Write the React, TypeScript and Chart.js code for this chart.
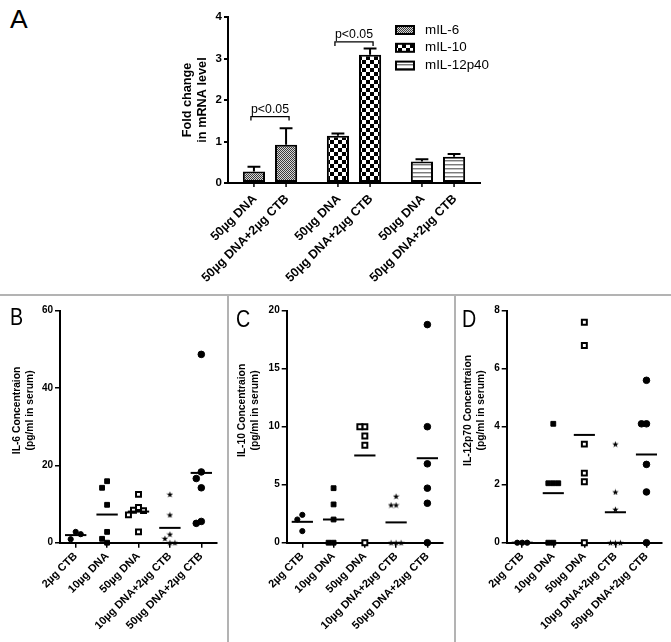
import React, { useEffect, useRef } from 'react';
import { Chart, registerables } from 'chart.js';

Chart.register(...registerables);

const FONT = '"Liberation Sans", Arial, Helvetica, sans-serif';
Chart.defaults.font.family = FONT;
Chart.defaults.color = '#000';

// ---------------- Panel A data ----------------
const geneLabels = ['mIL-6', 'mIL-10', 'mIL-12p40'];
const treatmentLabels = ['50µg DNA', '50µg DNA+2µg CTB'];
const foldDna = [0.28, 1.14, 0.52];
const foldDnaCtb = [0.92, 3.09, 0.63];
const semDna = [0.11, 0.05, 0.05];
const semDnaCtb = [0.4, 0.15, 0.07];
const sigLabels = ['p<0.05', 'p<0.05', ''];
const sigLevels = [1.6, 3.4, 0];
const foldTicks = [0, 1, 2, 3, 4];

// ---------------- Panels B-D data ----------------
const serumGroups = ['2µg CTB', '10µg DNA', '50µg DNA', '10µg DNA+2µg CTB', '50µg DNA+2µg CTB'];
const il6Values = [
  [2.8, 0.9, 2.2],
  [15.9, 14.2, 9.8, 2.8, 1.0, 0],
  [12.5, 9.1, 8.4, 8.3, 7.2, 2.8],
  [12.5, 7.2, 2.2, 1.1, 0, 0],
  [48.7, 18.3, 16.6, 14.2, 5.5, 5.0],
];
const il10Values = [
  [2.4, 2.0, 1.0],
  [4.7, 3.3, 2.0, 0, 0],
  [10, 10, 9.2, 8.4, 0],
  [4.0, 3.25, 3.25, 0, 0, 0],
  [18.8, 10, 6.8, 4.7, 3.4, 0],
];
const il12Values = [
  [0, 0, 0],
  [4.1, 2.05, 2.05, 2.05, 0, 0],
  [7.6, 6.8, 3.4, 2.4, 2.1, 0],
  [3.4, 1.75, 1.15, 0, 0, 0],
  [5.6, 4.1, 4.1, 2.7, 1.75, 0],
];
const il6Ticks = [0, 20, 40, 60];
const il10Ticks = [0, 5, 10, 15, 20];
const il12Ticks = [0, 2, 4, 6, 8];

// ---------------- helpers ----------------
function makePattern(kind: string): CanvasPattern | string {
  const c = document.createElement('canvas');
  const ctx = c.getContext('2d');
  if (!ctx) return '#999';
  if (kind === 'fine') {
    c.width = 2; c.height = 2;
    ctx.fillStyle = '#d6d6d6'; ctx.fillRect(0, 0, 2, 2);
    ctx.fillStyle = '#3a3a3a'; ctx.fillRect(0, 0, 1, 1); ctx.fillRect(1, 1, 1, 1);
  } else if (kind === 'checker') {
    c.width = 8; c.height = 8;
    ctx.fillStyle = '#fff'; ctx.fillRect(0, 0, 8, 8);
    ctx.fillStyle = '#000'; ctx.fillRect(0, 0, 4, 4); ctx.fillRect(4, 4, 4, 4);
  } else {
    c.width = 4; c.height = 4;
    ctx.fillStyle = '#fff'; ctx.fillRect(0, 0, 4, 4);
    ctx.fillStyle = '#7a7a7a'; ctx.fillRect(0, 0, 4, 1);
    ctx.fillStyle = '#c4c4c4'; ctx.fillRect(0, 1, 4, 1);
  }
  return ctx.createPattern(c, 'repeat') || '#999';
}

let starCache: HTMLCanvasElement | null = null;
function starImage(): HTMLCanvasElement {
  if (starCache) return starCache;
  const c = document.createElement('canvas');
  c.width = 7; c.height = 7;
  const ctx = c.getContext('2d')!;
  ctx.fillStyle = '#000';
  ctx.beginPath();
  for (let k = 0; k < 10; k++) {
    const r = k % 2 === 0 ? 3.4 : 1.4;
    const a = -Math.PI / 2 + (k * Math.PI) / 5;
    const px = 3.5 + r * Math.cos(a);
    const py = 3.8 + r * Math.sin(a);
    if (k === 0) ctx.moveTo(px, py); else ctx.lineTo(px, py);
  }
  ctx.closePath();
  ctx.fill();
  starCache = c;
  return c;
}

// spread overlapping points sideways (like a column scatter plot)
function spread(values: number[], thr: number, step: number): number[] {
  const placed: { v: number; o: number }[] = [];
  const cands = [0, -1, 1, -2, 2, -3, 3];
  return values.map((v) => {
    for (const c of cands) {
      if (!placed.some((p) => Math.abs(p.v - v) < thr && Math.abs(p.o - c) < 1)) {
        placed.push({ v, o: c });
        return c * step;
      }
    }
    return 0;
  });
}

const markers = [
  { style: 'circle', r: 2.6, fill: '#000', bw: 1 },
  { style: 'rect', r: 3.4, fill: '#000', bw: 1 },
  { style: 'rect', r: 3.5, fill: '#fff', bw: 2 },
  { style: 'star', r: 3, fill: '#000', bw: 0 },
  { style: 'circle', r: 3.3, fill: '#000', bw: 1 },
];

// ---------------- Panel A ----------------
function buildA(canvas: HTMLCanvasElement) {
  const patterns = [makePattern('fine'), makePattern('checker'), makePattern('stripes')];
  const errs = [semDna, semDnaCtb];

  const decorations = {
    id: 'decorA',
    afterDatasetsDraw(chart: any) {
      const ctx = chart.ctx;
      const y = chart.scales.y;
      const area = chart.chartArea;
      ctx.save();
      ctx.strokeStyle = '#000';
      ctx.lineWidth = 2;
      // error bars
      chart.data.datasets.forEach((ds: any, d: number) => {
        const meta = chart.getDatasetMeta(d);
        meta.data.forEach((el: any, j: number) => {
          const top = y.getPixelForValue(ds.data[j] + errs[d][j]);
          const half = el.width * 0.29;
          ctx.beginPath();
          ctx.moveTo(el.x, el.y);
          ctx.lineTo(el.x, top);
          ctx.moveTo(el.x - half, top);
          ctx.lineTo(el.x + half, top);
          ctx.stroke();
        });
      });
      // significance brackets
      const m0 = chart.getDatasetMeta(0);
      const m1 = chart.getDatasetMeta(1);
      ctx.lineWidth = 1.3;
      ctx.font = `12.3px ${FONT}`;
      ctx.fillStyle = '#000';
      ctx.textAlign = 'center';
      ctx.textBaseline = 'alphabetic';
      sigLabels.forEach((lab, j) => {
        if (!lab) return;
        const x1 = m0.data[j].x - 3;
        const x2 = m1.data[j].x + 3;
        const yb = y.getPixelForValue(sigLevels[j]);
        ctx.beginPath();
        ctx.moveTo(x1, yb + 4);
        ctx.lineTo(x1, yb);
        ctx.lineTo(x2, yb);
        ctx.lineTo(x2, yb + 4);
        ctx.stroke();
        ctx.fillText(lab, (x1 + x2) / 2, yb - 4);
      });
      // x tick marks + rotated labels
      ctx.lineWidth = 1.5;
      ctx.font = `bold 12.5px ${FONT}`;
      ctx.textAlign = 'right';
      ctx.textBaseline = 'middle';
      [m0, m1].forEach((meta: any, d: number) => {
        meta.data.forEach((el: any) => {
          ctx.beginPath();
          ctx.moveTo(el.x, area.bottom);
          ctx.lineTo(el.x, area.bottom + 4);
          ctx.stroke();
          ctx.save();
          ctx.translate(el.x + 1, area.bottom + 14);
          ctx.rotate(-Math.PI / 4);
          ctx.fillText(treatmentLabels[d], 0, 0);
          ctx.restore();
        });
      });
      // legend
      ctx.font = `13.4px ${FONT}`;
      ctx.textAlign = 'left';
      ctx.textBaseline = 'middle';
      ctx.lineWidth = 2;
      geneLabels.forEach((g, k) => {
        const cy = area.top + 13 + k * 17.8;
        const bx = area.right - 84;
        ctx.fillStyle = patterns[k] as any;
        ctx.fillRect(bx, cy - 4, 18, 8);
        ctx.strokeRect(bx, cy - 4, 18, 8);
        ctx.fillStyle = '#000';
        ctx.fillText(g, area.right - 55, cy);
      });
      ctx.restore();
    },
  };

  return new Chart(canvas, {
    type: 'bar',
    data: {
      labels: geneLabels,
      datasets: [
        { label: treatmentLabels[0], data: foldDna },
        { label: treatmentLabels[1], data: foldDnaCtb },
      ].map((ds) => ({
        ...ds,
        backgroundColor: patterns as any,
        borderColor: '#000',
        borderWidth: 2,
        borderSkipped: false,
        categoryPercentage: 0.765,
        barPercentage: 0.69,
      })),
    },
    options: {
      responsive: false,
      animation: false,
      devicePixelRatio: 1,
      layout: { padding: { top: 17, right: 20, left: 0, bottom: 0 } },
      plugins: { legend: { display: false }, tooltip: { enabled: false } },
      scales: {
        x: {
          grid: { display: false },
          ticks: { display: false },
          border: { color: '#000', width: 2 },
          afterFit: (s: any) => { s.height = 109; },
        },
        y: {
          min: 0,
          max: 4,
          afterBuildTicks: (s: any) => { s.ticks = foldTicks.map((v) => ({ value: v })); },
          ticks: { font: { size: 11.5, weight: 'bold' }, color: '#000', padding: 2 },
          grid: { drawOnChartArea: false, color: '#000', lineWidth: 2, tickLength: 4 },
          border: { color: '#000', width: 2 },
          title: {
            display: true,
            text: ['Fold change', 'in mRNA level'],
            font: { size: 12.7, weight: 'bold' },
            color: '#000',
            padding: { top: 30, bottom: 0 },
          },
          afterFit: (s: any) => { s.width = 78; },
        },
      },
    },
    plugins: [decorations],
  } as any);
}

// ---------------- Panels B-D ----------------
interface SerumCfg {
  values: number[][];
  ticks: number[];
  title: string[];
  yWidth: number;
  padRight: number;
  padTop: number;
  xHeight: number;
  titleX: number;
}

function buildSerum(canvas: HTMLCanvasElement, cfg: SerumCfg) {
  const { values, ticks, title, yWidth, padRight, padTop, xHeight, titleX } = cfg;
  const yMax = ticks[ticks.length - 1];
  const thr = yMax * 0.035;
  const datasets = serumGroups.map((g, i) => {
    const offs = spread(values[i], thr, 0.16);
    const m = markers[i];
    return {
      label: g,
      data: values[i].map((v, k) => ({ x: i + offs[k], y: v })),
      pointStyle: m.style === 'star' ? starImage() : m.style,
      pointRadius: m.r,
      pointBackgroundColor: m.fill,
      pointBorderColor: '#000',
      pointBorderWidth: m.bw,
      showLine: false,
      clip: false,
    };
  });

  const meanPlugin = {
    id: 'means',
    afterDatasetsDraw(chart: any) {
      const ctx = chart.ctx;
      const xs = chart.scales.x;
      const ys = chart.scales.y;
      const area = chart.chartArea;
      const half = (xs.getPixelForValue(1) - xs.getPixelForValue(0)) * 0.34;
      ctx.save();
      ctx.strokeStyle = '#000';
      ctx.lineWidth = 2;
      values.forEach((arr, i) => {
        const mean = arr.reduce((a, b) => a + b, 0) / arr.length;
        const yy = ys.getPixelForValue(mean);
        const xc = xs.getPixelForValue(i);
        ctx.beginPath();
        ctx.moveTo(xc - half, yy);
        ctx.lineTo(xc + half, yy);
        ctx.stroke();
      });
      // y-axis title (two rotated lines)
      ctx.fillStyle = '#000';
      ctx.font = `bold 10.3px ${FONT}`;
      ctx.textAlign = 'center';
      ctx.textBaseline = 'middle';
      const cy = area.top + (area.bottom - area.top) * 0.43;
      title.forEach((line, k) => {
        ctx.save();
        ctx.translate(titleX + k * 13, cy);
        ctx.rotate(-Math.PI / 2);
        ctx.fillText(line, 0, 0);
        ctx.restore();
      });
      ctx.restore();
    },
  };

  return new Chart(canvas, {
    type: 'scatter',
    data: { datasets },
    options: {
      responsive: false,
      animation: false,
      devicePixelRatio: 1,
      layout: { padding: { top: padTop, right: padRight, left: 0, bottom: 0 } },
      plugins: { legend: { display: false }, tooltip: { enabled: false } },
      scales: {
        x: {
          type: 'linear',
          min: -0.5,
          max: 4.5,
          afterBuildTicks: (s: any) => { s.ticks = serumGroups.map((_, i) => ({ value: i })); },
          ticks: {
            callback: (v: any) => serumGroups[Math.round(v)] ?? '',
            minRotation: 45,
            maxRotation: 45,
            autoSkip: false,
            font: { size: 11, weight: 'bold' },
            color: '#000',
            padding: 2,
          },
          grid: { drawOnChartArea: false, color: '#000', lineWidth: 1.5, tickLength: 5 },
          border: { color: '#000', width: 2 },
          afterFit: (s: any) => { s.height = xHeight; },
        },
        y: {
          min: 0,
          max: yMax,
          afterBuildTicks: (s: any) => { s.ticks = ticks.map((v) => ({ value: v })); },
          ticks: { font: { size: 10, weight: 'bold' }, color: '#000', padding: 2 },
          grid: { drawOnChartArea: false, color: '#000', lineWidth: 1.5, tickLength: 5 },
          border: { color: '#000', width: 2 },
          afterFit: (s: any) => { s.width = yWidth; },
        },
      },
    },
    plugins: [meanPlugin],
  } as any);
}

// ---------------- React ----------------
function ChartCanvas(props: { left: number; top: number; width: number; height: number; build: (c: HTMLCanvasElement) => Chart }) {
  const ref = useRef<HTMLCanvasElement>(null);
  const { left, top, width, height, build } = props;
  useEffect(() => {
    if (!ref.current) return;
    const chart = build(ref.current);
    return () => chart.destroy();
  }, []);
  return (
    <canvas
      ref={ref}
      width={width}
      height={height}
      style={{ position: 'absolute', left, top, width, height }}
    />
  );
}

const letterStyle = (left: number, top: number, size: number, sx: number): React.CSSProperties => ({
  position: 'absolute',
  left,
  top,
  fontFamily: FONT,
  fontSize: size,
  lineHeight: 1,
  color: '#000',
  transform: `scaleX(${sx})`,
  transformOrigin: 'left top',
});

const sepColor = '#b3b3b3';

export default function App() {
  return (
    <div style={{ position: 'absolute', left: 0, top: 0, width: 671, height: 642, background: '#fff', overflow: 'hidden' }}>
      <ChartCanvas left={150} top={0} width={350} height={292} build={buildA} />
      <ChartCanvas
        left={0}
        top={296}
        width={226}
        height={346}
        build={(c) =>
          buildSerum(c, {
            values: il6Values,
            ticks: il6Ticks,
            title: ['IL-6 Concentraion', '(pg/ml in serum)'],
            yWidth: 60,
            padRight: 9,
            padTop: 14.7,
            xHeight: 99.3,
            titleX: 17,
          })
        }
      />
      <ChartCanvas
        left={228}
        top={296}
        width={226}
        height={346}
        build={(c) =>
          buildSerum(c, {
            values: il10Values,
            ticks: il10Ticks,
            title: ['IL-10 Concentraion', '(pg/ml in serum)'],
            yWidth: 58.7,
            padRight: 11,
            padTop: 14.7,
            xHeight: 99.3,
            titleX: 14,
          })
        }
      />
      <ChartCanvas
        left={455}
        top={296}
        width={216}
        height={346}
        build={(c) =>
          buildSerum(c, {
            values: il12Values,
            ticks: il12Ticks,
            title: ['IL-12p70 Concentraion', '(pg/ml in serum)'],
            yWidth: 51.7,
            padRight: 9,
            padTop: 14.7,
            xHeight: 99.3,
            titleX: 13.5,
          })
        }
      />
      <div style={{ position: 'absolute', left: 0, top: 294, width: 671, height: 2, background: sepColor }} />
      <div style={{ position: 'absolute', left: 227, top: 295, width: 2, height: 347, background: sepColor }} />
      <div style={{ position: 'absolute', left: 454, top: 295, width: 2, height: 347, background: sepColor }} />
      <div style={letterStyle(10, 6, 26.5, 1)}>A</div>
      <div style={letterStyle(10, 305, 24, 0.82)}>B</div>
      <div style={letterStyle(236, 307, 24, 0.82)}>C</div>
      <div style={letterStyle(462, 307, 24, 0.82)}>D</div>
    </div>
  );
}
